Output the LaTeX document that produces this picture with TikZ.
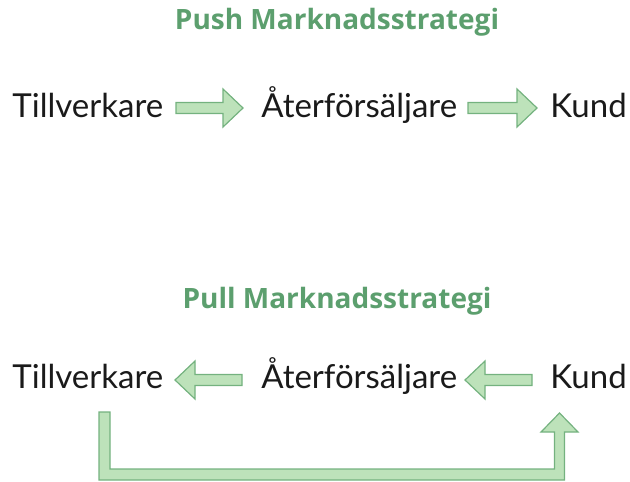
\documentclass[tikz,border=0pt]{standalone}
\usepackage{fontspec}
\setmainfont{Lato}
\newfontfamily\titlefont{Open Sans}
\usetikzlibrary{calc}
\definecolor{Leaf}{HTML}{5C9F6E}
\definecolor{LeafFill}{HTML}{BDE2BA}
\definecolor{LeafLine}{HTML}{74B27F}
\definecolor{Ink}{HTML}{1A1A1A}

% fat arrow from #1 to #2 (named coordinates)
\newcommand{\fatarrow}[2]{%
  \coordinate (fa-h) at ($(#2)!10pt!(#1)$);
  \draw[bigarrow] ($(#1)!2.75pt!90:(#2)$) -- ($(fa-h)!2.75pt!-90:(#1)$) -- ($(fa-h)!9.5pt!-90:(#1)$) -- (#2)
    -- ($(fa-h)!9.5pt!90:(#1)$) -- ($(fa-h)!2.75pt!90:(#1)$) -- ($(#1)!2.75pt!-90:(#2)$) -- cycle;
}

\begin{document}
\begin{tikzpicture}[x=0.5pt,y=-0.5pt,
    word/.style={anchor=base west,inner sep=0pt,text=Ink,font=\fontsize{16.5}{19}\selectfont},
    heading/.style={anchor=base,inner sep=0pt,text=Leaf,font=\titlefont\bfseries\fontsize{14}{17}\selectfont},
    bigarrow/.style={draw=LeafLine,fill=LeafFill,line width=0.6pt,line join=miter}
  ]
    \useasboundingbox (0,0) rectangle (630,481);
    % push
    \node[heading] (pushtitle) at (337,30) {Push Marknadsstrategi};
    \node[word] (pt) at (12,117) {Tillverkare};
    \node[word] (pa) at (261,117) {Återförsäljare};
    \node[word] (pk) at (550,117) {Kund};
    \coordinate (p1s) at (176,108);
    \coordinate (p1e) at (243,108);
    \coordinate (p2s) at (468,108);
    \coordinate (p2e) at (537,108);
    \fatarrow{p1s}{p1e}
    \fatarrow{p2s}{p2e}
    % pull
    \node[heading] (pulltitle) at (337,308) {Pull Marknadsstrategi};
    \node[word] (lt) at (12,388) {Tillverkare};
    \node[word] (la) at (261,388) {Återförsäljare};
    \node[word] (lk) at (550,388) {Kund};
    \coordinate (l1s) at (532,380);
    \coordinate (l1e) at (465,380);
    \coordinate (l2s) at (242,380);
    \coordinate (l2e) at (175,380);
    \fatarrow{l1s}{l1e}
    \fatarrow{l2s}{l2e}
    % return path under the row
    \coordinate (down) at (104.5,412);
    \coordinate (up) at (559.5,413);
    \draw[bigarrow] (down) ++(-5.5,0) -- ++(11,0) -- ++(0,57) -- ($(up)+(-5,56)$) -- ($(up)+(-5,19)$)
      -- ($(up)+(-18.5,19)$) -- (up) -- ($(up)+(18.5,19)$) -- ($(up)+(5,19)$) -- ($(up)+(5,67)$)
      -- ($(down)+(-5.5,68)$) -- cycle;
  \end{tikzpicture}
\end{document}
